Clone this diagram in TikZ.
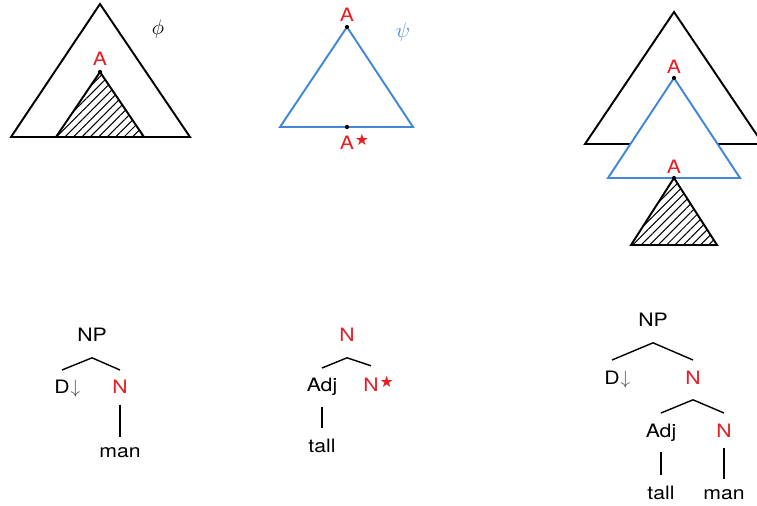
\documentclass[tikz,border=0pt]{standalone}
\usepackage{fontspec}
\setmainfont{TeX Gyre Heros}[FakeStretch=1.15]
\newfontfamily\symfont{DejaVu Sans}
\usetikzlibrary{positioning, patterns.meta}
\definecolor{footred}{RGB}{232,30,37}
\definecolor{auxblue}{RGB}{64,136,214}
\newcommand{\footstar}{\rlap{\kern0.5pt\raisebox{2.4pt}{\symfont\fontsize{9}{10}\selectfont ★}}}

\begin{document}
\begin{tikzpicture}[
    x=0.02cm, y=-0.02cm,
    font=\fontsize{10.5}{12}\selectfont,
    tri/.style={draw, line width=1.1pt, line join=miter},
    hatch/.style={tri, pattern={Lines[angle=45, distance=3.4pt, line width=0.6pt]}},
    dot/.style={circle, fill, inner sep=0pt, minimum size=2.4pt},
    lab/.style={anchor=base, inner sep=0pt, text=footred},
    tn/.style={anchor=base, inner sep=0pt, outer xsep=0pt, outer ysep=6pt},
    subst/.style={anchor=base west, inner sep=0pt, text=black!70},
    branch/.style={line width=0.8pt}
]
\useasboundingbox (0,0) rectangle (757,506);

% initial tree phi
\draw[tri] (100,4) -- (11,137) -- (190,137) -- cycle;
\draw[hatch] (100,72) -- (56,137) -- (144,137) -- cycle;
\node[dot] (phiA) at (100,72) {};
\node[lab] (phiAlab) at (100,66) {A};
\node[font=\large] (phi) at (158,29) {$\phi$};

% auxiliary tree psi
\draw[tri, auxblue] (347,27) -- (280,127) -- (413,127) -- cycle;
\node[dot] (psiroot) at (347,27) {};
\node[dot] (psifoot) at (347,127) {};
\node[lab] (psirootlab) at (347,22) {A};
\node[lab] (psifootlab) at (347,150) {A\footstar};
\node[text=auxblue, font=\large] (psi) at (403,32) {$\psi$};

% result of adjunction
\draw[tri] (674,12) -- (585,144) -- (763,144) -- cycle;
\draw[tri, auxblue, fill=white] (674,78) -- (608,178) -- (740,178) -- cycle;
\draw[hatch] (674,178) -- (631,245) -- (717,245) -- cycle;
\node[dot] (resroot) at (674,78) {};
\node[dot] (resfoot) at (674,178) {};
\node[lab] (resrootlab) at (674,74) {A};
\node[lab] (resfootlab) at (674,174) {A};

% tree 1
\node[tn] (np1) at (92,342) {NP};
\node[tn] (d1) at (62,394) {D};
\node[subst] (d1arr) at ([xshift=0.3pt]d1.base east) {$\downarrow$};
\node[tn, text=footred] (n1) at (120,394) {N};
\node[tn] (man1) at (120,457) {man};
\coordinate[below=3pt of np1] (np1top);
\draw[branch] (d1.north) -- (np1top) -- (n1.north);
\draw[branch] (n1) -- (man1);

% tree 2
\node[tn, text=footred] (n2) at (347,342) {N};
\node[tn] (adj2) at (322,392) {Adj};
\node[tn, text=footred] (nstar2) at (371,392) {N\footstar};
\node[tn] (tall2) at (322,452) {tall};
\coordinate[below=3pt of n2] (n2top);
\draw[branch] (adj2.north) -- (n2top) -- (nstar2.north);
\draw[branch] (adj2) -- (tall2);

% tree 3
\node[tn] (np3) at (653,327) {NP};
\node[tn] (d3) at (612,384) {D};
\node[subst] (d3arr) at ([xshift=0.3pt]d3.base east) {$\downarrow$};
\node[tn, text=footred] (n3) at (693,384) {N};
\node[tn] (adj3) at (661,437) {Adj};
\node[tn, text=footred] (nn3) at (724,437) {N};
\node[tn] (tall3) at (661,499) {tall};
\node[tn] (man3) at (724,499) {man};
\coordinate[below=3pt of np3] (np3top);
\coordinate[below=3pt of n3] (n3top);
\draw[branch] (d3.north) -- (np3top) -- (n3.north);
\draw[branch] (adj3.north) -- (n3top) -- (nn3.north);
\draw[branch] (adj3) -- (tall3);
\draw[branch] (nn3) -- (man3);
\end{tikzpicture}
\end{document}
